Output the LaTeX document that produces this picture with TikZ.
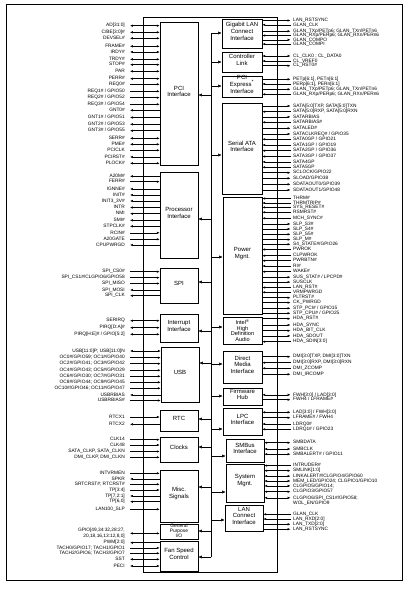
\documentclass[tikz,border=0pt]{standalone}
\usepackage{fontspec}
\setmainfont{Liberation Sans}
\usetikzlibrary{arrows.meta,fit}
\newcounter{sg}
% left signal: block, y, arrow, text
\newcommand\LS[4]{%
  \stepcounter{sg}\edef\sgn{s\arabic{sg}}%
  \node[sig,anchor=east] (\sgn) at (125,#2) {#4};
  \draw[#3] ([xshift=5pt]\sgn.east) -- (#1.west |- \sgn.east);}
% right signal: block, y, arrow, text
\newcommand\RS[4]{%
  \stepcounter{sg}\edef\sgn{s\arabic{sg}}%
  \node[sig,anchor=west] (\sgn) at (293,#2) {#4};
  \draw[#3] (#1.east |- \sgn.west) -- ([xshift=-2.5pt]\sgn.west);}
% bus arrows
\newcommand\BR[2]{%
  \stepcounter{sg}\edef\sgn{b\arabic{sg}}%
  \coordinate (\sgn) at (211,#2);
  \draw[busar] (\sgn) -- (\sgn -| #1.west);}
\newcommand\BL[2]{%
  \stepcounter{sg}\edef\sgn{b\arabic{sg}}%
  \coordinate (\sgn) at (211,#2);
  \draw[busar] (\sgn) -- (\sgn -| #1.east);}
\tikzset{
  sig/.style={font=\fontsize{4.8}{5.5}\selectfont, inner sep=0pt, text height=3.3pt, text depth=0.8pt},
  sigtwo/.style={font=\fontsize{4.8}{6.7}\selectfont, inner sep=0pt, align=right},
  blk/.style={draw, line width=0.6pt, inner sep=0pt, align=center, font=\fontsize{6}{6.8}\selectfont},
  busar/.style={line width=0.5pt, -{Latex[length=3.5pt,width=3pt]}},
}
\begin{document}
\begin{tikzpicture}[x=1pt,y=-1pt, line width=0.45pt, >={Latex[length=2.8pt,width=2.3pt]}]
\useasboundingbox (0,0) rectangle (418,590);
\fill[white] (0,0) rectangle (418,590);
\node[draw, line width=0.8pt, inner sep=0pt, fit={(6,4) (402,580)}] (frame) {};
\node[draw, line width=0.7pt, inner sep=0pt, fit={(143,17) (277,572)}] (chip) {};
% left blocks
\node[blk, fit={(160,22) (198,165)}] (pci) {PCI\\Interface};
\node[blk, fit={(160,172) (198,258)}] (proc) {Processor\\Interface};
\node[blk, fit={(160,268) (198,303)}] (spi) {SPI};
\node[blk, fit={(160,314) (198,342)}] (intr) {Interrupt\\Interface};
\node[blk, fit={(161,347) (199,402)}] (usb) {USB};
\node[blk, fit={(160,410) (198,431)}] (rtc) {RTC};
\node[blk, fit={(160,437) (198,462)}] (clk) {Clocks};
\node[blk, fit={(160,470) (198,522)}] (misc) {Misc.\\Signals};
\node[blk, fit={(160,524) (198,539)}] (gpio) {};
\node[font=\fontsize{4.9}{4.5}\selectfont, align=center, inner sep=0pt] (gpiot) at ([yshift=0.4pt]gpio.center) {General\\Purpose\\I/O};
\node[blk, fit={(160,541) (198,571)}] (fan) {Fan Speed\\Control};
% right blocks
\node[blk, fit={(222,19) (262,48)}] (glan) {Gigabit LAN\\Connect\\Interface};
\node[blk, fit={(222,52) (262,72)}] (cl) {Controller\\Link};
\node[blk, fit={(222,76) (262,97)}] (pcie) {PCI\\Express\textsuperscript{*}\\Interface};
\node[blk, fit={(222,103) (262,194)}] (sata) {Serial ATA\\Interface};
\node[blk, fit={(223,197) (262,314)}] (pwr) {Power\\Mgnt.};
\node[blk, fit={(223,317) (262,344)}] (hda) {};
\node[font=\fontsize{5.6}{5.7}\selectfont, align=center, inner sep=0pt] (hdat) at (hda.center) {Intel\textsuperscript{®}\\High\\Definition\\Audio};
\node[blk, fit={(223,351) (262,383)}] (dmi) {Direct\\Media\\Interface};
\node[blk, fit={(223,388) (262,405)}] (fwh) {Firmware\\Hub};
\node[blk, fit={(223,408) (262,435)}] (lpc) {LPC\\Interface};
\node[blk, fit={(226,439) (264,462)}] (smb) {SMBus\\Interface};
\node[blk, fit={(226,464) (264,502)}] (sys) {System\\Mgnt.};
\node[blk, fit={(225,505) (263,531)}] (lanc) {LAN\\Connect\\Interface};
% internal bus
\coordinate (bustop) at (211,33);
\coordinate (busbot) at (211,557);
\draw[line width=0.5pt] (bustop) -- (busbot);
\BR{glan}{33} \BR{cl}{62} \BR{pcie}{86} \BR{sata}{155} \BR{pwr}{257} \BR{hda}{327}
\BR{dmi}{364} \BR{fwh}{396} \BR{lpc}{429} \BR{smb}{456} \BR{sys}{492} \BR{lanc}{520}
\BL{pci}{95} \BL{proc}{219} \BL{spi}{282} \BL{intr}{331} \BL{usb}{363} \BL{rtc}{419}
\BL{clk}{447} \BL{misc}{487} \BL{gpio}{531} \BL{fan}{557}
% ---- left signals ----
\LS{pci}{25.7}{<->}{AD[31:0]}
\LS{pci}{32.3}{<->}{C/BE[3:0]\#}
\LS{pci}{38.3}{<->}{DEVSEL\#}
\LS{pci}{46.3}{<->}{FRAME\#}
\LS{pci}{52}{<->}{IRDY\#}
\LS{pci}{59.3}{<->}{TRDY\#}
\LS{pci}{64.7}{<->}{STOP\#}
\LS{pci}{71.3}{<->}{PAR}
\LS{pci}{78.7}{<->}{PERR\#}
\LS{pci}{84.3}{->}{REQ0\#}
\LS{pci}{91.3}{->}{REQ1\# / GPIO50}
\LS{pci}{97.7}{->}{REQ2\# / GPIO52}
\LS{pci}{104.3}{->}{REQ3\# / GPIO54}
\LS{pci}{110.3}{<-}{GNT0\#}
\LS{pci}{117.5}{<-}{GNT1\# / GPIO51}
\LS{pci}{124.3}{<-}{GNT2\# / GPIO53}
\LS{pci}{130.7}{<-}{GNT3\# / GPIO55}
\LS{pci}{138.3}{<->}{SERR\#}
\LS{pci}{144.3}{<->}{PME\#}
\LS{pci}{150.3}{->}{PCICLK}
\LS{pci}{157}{<-}{PCIRST\#}
\LS{pci}{163.3}{<->}{PLOCK\#}
\LS{proc}{176.3}{<-}{A20M\#}
\LS{proc}{181.7}{->}{FERR\#}
\LS{proc}{189}{<-}{IGNNE\#}
\LS{proc}{195}{<-}{INIT\#}
\LS{proc}{201}{<-}{INIT3\_3V\#}
\LS{proc}{207.5}{<-}{INTR}
\LS{proc}{213.7}{<-}{NMI}
\LS{proc}{220.3}{<-}{SMI\#}
\LS{proc}{226.3}{<-}{STPCLK\#}
\LS{proc}{232.8}{->}{RCIN\#}
\LS{proc}{239.3}{->}{A20GATE}
\LS{proc}{245}{<-}{CPUPWRGD}
\LS{spi}{271.7}{->}{SPI\_CS0\#}
\LS{spi}{277.7}{->}{SPI\_CS1\#/CLGPIO6/GPIO58}
\LS{spi}{283.5}{->}{SPI\_MISO}
\LS{spi}{290}{<-}{SPI\_MOSI}
\LS{spi}{295.7}{<-}{SPI\_CLK}
\LS{intr}{320.7}{<->}{SERIRQ}
\LS{intr}{327.7}{<->}{PIRQ[D:A]\#}
\LS{intr}{334.3}{<->}{PIRQ[H:E]\# / GPIO[5:2]}
\LS{usb}{351}{<->}{USB[11:0]P; USB[11:0]N}
\LS{usb}{357.7}{->}{OC0\#/GPIO59; OC1\#/GPIO40}
\LS{usb}{363.7}{->}{OC2\#/GPIO41; OC3\#/GPIO42}
\LS{usb}{370.3}{->}{OC4\#/GPIO43; OC5\#/GPIO29}
\LS{usb}{376.3}{->}{OC6\#/GPIO30; OC7\#/GPIO31}
\LS{usb}{382.3}{->}{OC8\#/GPIO44; OC9\#/GPIO45}
\LS{usb}{388.3}{->}{OC10\#/GPIO46; OC11\#/GPIO47}
\LS{usb}{395}{<-}{USBRBIAS}
\LS{usb}{400.5}{->}{USBRBIAS\#}
\LS{rtc}{417}{->}{RTCX1}
\LS{rtc}{424.3}{<-}{RTCX2}
\LS{clk}{439.7}{->}{CLK14}
\LS{clk}{445}{->}{CLK48}
\LS{clk}{451.5}{->}{SATA\_CLKP, SATA\_CLKN}
\LS{clk}{457.3}{->}{DMI\_CLKP, DMI\_CLKN}
\LS{misc}{473.3}{->}{INTVRMEN}
\LS{misc}{479}{<-}{SPKR}
\LS{misc}{484.3}{->}{SRTCRST\#; RTCRST\#}
\LS{misc}{490}{->}{TP[3:4]}
\LS{misc}{496}{<-}{TP[7,2:1]}
\LS{misc}{501.7}{<-}{TP[6,0]}
\LS{misc}{509.3}{->}{LAN100\_SLP}
\node[sigtwo,anchor=east] (gpiol) at (125,533.4) {GPIO[49,34:32,28:27,\\20,18,16,13:12,8,0]};
\draw[<->] ([xshift=5pt]gpiol.east) -- (gpio.west |- gpiol.east);
\LS{fan}{542.7}{<-}{PWM[2:0]}
\LS{fan}{547.9}{->}{TACH0/GPIO17; TACH1/GPIO1}
\LS{fan}{553.3}{->}{TACH2/GPIO6; TACH3/GPIO7}
\LS{fan}{559.3}{<->}{SST}
\LS{fan}{566}{<->}{PECI}
% ---- right signals ----
\RS{glan}{20.5}{->}{LAN\_RSTSYNC}
\RS{glan}{24.8}{<-}{GLAN\_CLK}
\RS{glan}{31.2}{->}{GLAN\_TXp/PETp6; GLAN\_TXn/PETn6}
\RS{glan}{35.5}{<-}{GLAN\_RXp/PERp6; GLAN\_RXn/PERn6}
\RS{glan}{39.8}{->}{GLAN\_COMPO}
\RS{glan}{44.1}{<-}{GLAN\_COMPI}
\RS{cl}{56}{<->}{CL\_CLK0 ; CL\_DATA0}
\RS{cl}{61}{<-}{CL\_VREF0}
\RS{cl}{65.7}{->}{CL\_RST0\#}
\RS{pcie}{79.3}{->}{PETp[6:1], PETn[6:1]}
\RS{pcie}{84}{<-}{PERp[6:1], PERn[6:1]}
\RS{pcie}{89.3}{->}{GLAN\_TXp/PETp6; GLAN\_TXn/PETn6}
\RS{pcie}{94.3}{<-}{GLAN\_RXp/PERp6; GLAN\_RXn/PERn6}
\RS{sata}{106}{->}{SATA[5:0]TXP, SATA[5:0]TXN}
\RS{sata}{111.7}{<-}{SATA[5:0]RXP, SATA[5:0]RXN}
\RS{sata}{116.9}{->}{SATARBIAS}
\RS{sata}{122.3}{<-}{SATARBIAS\#}
\RS{sata}{128.3}{->}{SATALED\#}
\RS{sata}{134}{->}{SATACLKREQ\# / GPIO35}
\RS{sata}{139.3}{<-}{SATA0GP / GPIO21}
\RS{sata}{145}{<-}{SATA1GP / GPIO19}
\RS{sata}{150.7}{<-}{SATA2GP / GPIO36}
\RS{sata}{156.5}{<-}{SATA3GP / GPIO37}
\RS{sata}{161.9}{<-}{SATA4GP}
\RS{sata}{167.3}{<-}{SATA5GP}
\RS{sata}{172.7}{->}{SCLOCK/GPIO22}
\RS{sata}{178.3}{->}{SLOAD/GPIO38}
\RS{sata}{184.3}{->}{SDATAOUT0/GPIO39}
\RS{sata}{190}{->}{SDATAOUT1/GPIO48}
\RS{pwr}{198.5}{<-}{THRM\#}
\RS{pwr}{203}{<-}{THRMTRIP\#}
\RS{pwr}{207.4}{<-}{SYS\_RESET\#}
\RS{pwr}{212.3}{<-}{RSMRST\#}
\RS{pwr}{218.3}{<-}{MCH\_SYNC\#}
\RS{pwr}{224}{->}{SLP\_S3\#}
\RS{pwr}{229}{->}{SLP\_S4\#}
\RS{pwr}{234.3}{->}{SLP\_S5\#}
\RS{pwr}{239.6}{->}{SLP\_M\#}
\RS{pwr}{244.3}{->}{S4\_STATE\#/GPIO26}
\RS{pwr}{249.5}{<-}{PWROK}
\RS{pwr}{255.7}{<-}{CLPWROK}
\RS{pwr}{260.7}{<-}{PWRBTN\#}
\RS{pwr}{266}{<-}{RI\#}
\RS{pwr}{271.7}{<-}{WAKE\#}
\RS{pwr}{277.2}{->}{SUS\_STAT\# / LPCPD\#}
\RS{pwr}{282.1}{->}{SUSCLK}
\RS{pwr}{287.5}{<-}{LAN\_RST\#}
\RS{pwr}{292.3}{<-}{VRMPWRGD}
\RS{pwr}{297.7}{->}{PLTRST\#}
\RS{pwr}{302.6}{->}{CK\_PWRGD}
\RS{pwr}{308.3}{->}{STP\_PCI\# / GPIO15}
\RS{pwr}{313.3}{->}{STP\_CPU\# / GPIO25}
\RS{hda}{318.7}{->}{HDA\_RST\#}
\RS{hda}{325}{->}{HDA\_SYNC}
\RS{hda}{330.7}{->}{HDA\_BIT\_CLK}
\RS{hda}{335.9}{->}{HDA\_SDOUT}
\RS{hda}{341.7}{<-}{HDA\_SDIN[3:0]}
\RS{dmi}{356.7}{->}{DMI[3:0]TXP, DMI[3:0]TXN}
\RS{dmi}{362.7}{<-}{DMI[3:0]RXP, DMI[3:0]RXN}
\RS{dmi}{368.3}{<-}{DMI\_ZCOMP}
\RS{dmi}{374.3}{->}{DMI\_IRCOMP}
\RS{fwh}{394.8}{<->}{FWH[3:0] / LAD[3:0]}
\RS{fwh}{399.7}{->}{FWH4 / LFRAME\#}
\RS{lpc}{412.3}{<->}{LAD[3:0] / FWH[3:0]}
\RS{lpc}{417.7}{->}{LFRAME\# / FWH4}
\RS{lpc}{424}{<-}{LDRQ0\#}
\RS{lpc}{429.3}{<-}{LDRQ1\# / GPIO23}
\RS{smb}{442.7}{<->}{SMBDATA}
\RS{smb}{449}{<->}{SMBCLK}
\RS{smb}{454.2}{<->}{SMBALERT\# / GPIO11}
\RS{sys}{465.6}{<-}{INTRUDER\#}
\RS{sys}{470.7}{<->}{SMLINK[1:0]}
\RS{sys}{476.1}{<->}{LINKALERT\#/CLGPIO4/GPIO60}
\RS{sys}{481}{<->}{MEM\_LED/GPIO24; CLGPIO1/GPIO10}
\RS{sys}{485.9}{<->}{CLGPIO5/GPIO14;}
\RS{sys}{491.7}{<->}{CLGPIO3/GPIO57}
\RS{sys}{497.8}{<->}{CLGPIO6/SPI\_CS1\#/GPIO58;}
\node[sig,anchor=west] (wol) at (293,503) {WOL\_EN/GPIO9};
\RS{lanc}{514.3}{<-}{GLAN\_CLK}
\RS{lanc}{519}{<-}{LAN\_RXD[2:0]}
\RS{lanc}{524.3}{->}{LAN\_TXD[2:0]}
\RS{lanc}{529.2}{->}{LAN\_RSTSYNC}
\end{tikzpicture}
\end{document}
